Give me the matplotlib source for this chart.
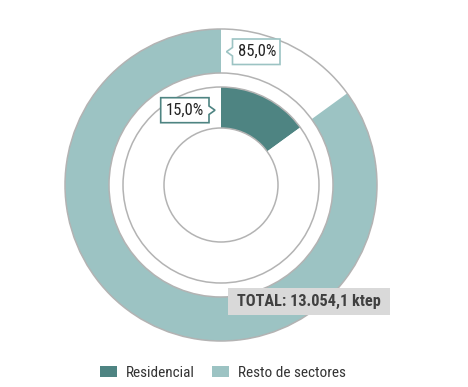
import matplotlib
matplotlib.use("Agg")
import matplotlib.pyplot as plt
from matplotlib.patches import Circle, Polygon, Patch, Rectangle

# ---- data ----
categories = ["Residencial", "Resto de sectores"]
shares = [15.0, 85.0]
label_texts = ["15,0%", "85,0%"]
total_text = "TOTAL: 13.054,1 ktep"

c_dark = "#4e8482"
c_light = "#9cc3c3"
c_line = "#b3b3b3"

plt.rcParams['font.family'] = ['Roboto Condensed', 'Liberation Sans Narrow', 'Roboto', 'DejaVu Sans']

W, H = 468, 387
fig = plt.figure(figsize=(W / 100, H / 100), dpi=100)
ax = fig.add_axes([0, 0, 1, 1])
ax.set_xlim(0, W)
ax.set_ylim(0, H)
ax.set_aspect('equal')
ax.axis('off')

cx, cy = 221, H - 185
R_out, w_out = 156, 44
R_in, w_in = 98, 41

# outer ring: white slice for Residencial, light teal for rest
ax.pie(shares, colors=["white", c_light], startangle=90, counterclock=False,
       radius=R_out, center=(cx, cy), frame=True,
       wedgeprops=dict(width=w_out, linewidth=0))
# inner ring: dark teal for Residencial, white for rest
ax.pie(shares, colors=[c_dark, "white"], startangle=90, counterclock=False,
       radius=R_in, center=(cx, cy), frame=True,
       wedgeprops=dict(width=w_in, linewidth=0))
ax.set_xlim(0, W)
ax.set_ylim(0, H)
ax.axis('off')

for r in [R_out, R_out - w_out, R_in, R_in - w_in]:
    ax.add_patch(Circle((cx, cy), r, fill=False, edgecolor=c_line, linewidth=1.1, zorder=5))

def flip(pts):
    return [(x, H - y) for x, y in pts]

# label box 85,0% (pointer left)
l, r_, t, b = 232.5, 280, 39, 64.5
pts = [(l, t), (r_, t), (r_, b), (l, b), (l, 56), (226.5, 51.7), (l, 47.5)]
ax.add_patch(Polygon(flip(pts), closed=True, facecolor="white", edgecolor=c_light,
                     linewidth=1.2, zorder=6))
ax.text((l + r_) / 2 + 0.5, H - (t + b) / 2, label_texts[1], ha='center', va='center',
        fontsize=12, color="#222222", zorder=7)

# label box 15,0% (pointer right)
l, r_, t, b = 160.7, 209, 97.7, 122.7
pts = [(l, t), (r_, t), (r_, 106), (215, 110.2), (r_, 114.5), (r_, b), (l, b)]
ax.add_patch(Polygon(flip(pts), closed=True, facecolor="white", edgecolor=c_dark,
                     linewidth=1.2, zorder=6))
ax.text((l + r_) / 2, H - (t + b) / 2, label_texts[0], ha='center', va='center',
        fontsize=12, color="#222222", zorder=7)

# total box
ax.add_patch(Rectangle((228, H - 315), 162, 27, facecolor="#d9d9d9", edgecolor='none', zorder=6))
ax.text(309, H - 301.5, total_text, ha='center', va='center', fontsize=11.7,
        fontweight='bold', color="#404040", zorder=7)

handles = [Patch(facecolor=c_dark, edgecolor='none'), Patch(facecolor=c_light, edgecolor='none')]
fig.legend(handles, categories, loc='center', bbox_to_anchor=(223 / W, 1 - 373 / H),
           ncol=2, frameon=False, fontsize=11, handlelength=1.08, handleheight=0.72,
           handletextpad=0.6, columnspacing=1.15, labelcolor="#333333")

fig.savefig("out.png", dpi=100)
